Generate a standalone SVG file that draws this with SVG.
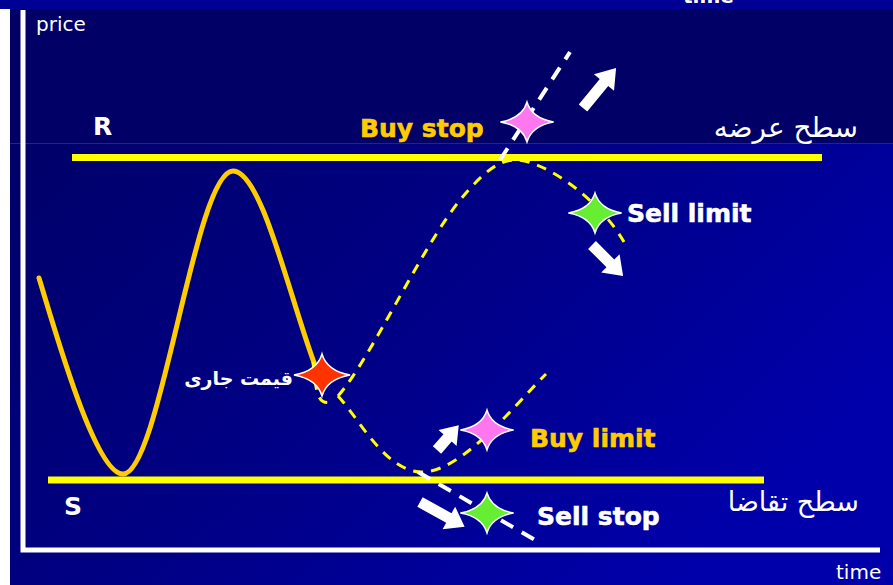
<svg xmlns="http://www.w3.org/2000/svg" width="893" height="585" viewBox="0 0 893 585">
<defs>
<linearGradient id="bgLow" x1="0" y1="0" x2="1" y2="0.5">
<stop offset="0" stop-color="#000068"/>
<stop offset="0.55" stop-color="#000088"/>
<stop offset="1" stop-color="#0000aa"/>
</linearGradient>
<path id="star" d="M -28 0 Q -5 -4 0 -21 Q 5 -4 28 0 Q 5 4 0 21 Q -5 4 -28 0 Z"/>
</defs>
<style>
.lvl{stroke:#ffff00;stroke-width:7;fill:none}
.curve{stroke:#ffcc00;stroke-width:5;fill:none;stroke-linecap:round}
.dash{stroke:#ffff00;stroke-width:3;fill:none;stroke-dasharray:10 8}
.wdash{stroke:#ffffff;stroke-width:4;fill:none;stroke-dasharray:14 10}
.arrow{fill:#ffffff}
.star{stroke:#ffffff;stroke-width:1.5}
.lbl{font-family:"DejaVu Sans","Liberation Sans",sans-serif;font-weight:bold;font-size:25px;stroke-width:0.6}
.ax{font-family:"DejaVu Sans","Liberation Sans",sans-serif;font-size:20px;fill:#ffffff}
.ar{font-family:"DejaVu Sans","Noto Sans",sans-serif;fill:#ffffff}
</style>
<!-- background -->
<rect x="0" y="0" width="893" height="585" fill="#000066"/>
<rect x="0" y="143" width="893" height="442" fill="url(#bgLow)"/>
<rect x="0" y="0" width="893" height="9" fill="#000094"/>
<rect x="0" y="9" width="10" height="576" fill="#ffffff"/>
<line x1="10" y1="143.5" x2="893" y2="143.5" stroke="#1a1ad0" stroke-width="1"/>
<text x="683" y="3" class="ax" font-weight="bold" font-size="22">time</text>

<g id="axes">
<polyline points="23,10 23,550 880,550" fill="none" stroke="#ffffff" stroke-width="5"/>
<text x="36" y="31" class="ax">price</text>
<text x="836" y="579" class="ax">time</text>
</g>

<g id="resistance">
<line x1="72" y1="157.5" x2="822" y2="157.5" class="lvl"/>
<text x="93" y="135" class="lbl" font-size="19" fill="#ffffff">R</text>
<text x="858" y="137" class="ar" font-size="28" text-anchor="end">سطح عرضه</text>
</g>

<g id="support">
<line x1="48" y1="480" x2="764" y2="480" class="lvl"/>
<text x="64" y="515" class="lbl" font-size="20" fill="#ffffff">S</text>
<text x="859" y="511" class="ar" font-size="27" text-anchor="end">سطح تقاضا</text>
</g>

<g id="connectors">
<path class="curve" d="M 39 278 C 55 330, 95 474, 123 474 C 160 474, 195 171, 233 171 C 262 171, 290 300, 316 368"/>
<path class="dash" d="M 313 362 C 316 395, 318 405, 332 402"/>
<path class="dash" d="M 338 396 C 370 360, 420 250, 460 200 C 485 170, 500 160, 515 160 C 545 160, 600 200, 624 242"/>
<path class="dash" d="M 338 396 C 360 420, 385 470, 420 472 C 460 474, 510 410, 546 374"/>
<line class="wdash" x1="500" y1="160" x2="570" y2="52"/>
<line class="wdash" x1="418" y1="472" x2="535" y2="540"/>
</g>

<g id="current-price">
<use href="#star" class="star" fill="#ff3300" transform="translate(322,375)"/>
<text x="293" y="385" class="ar" font-size="19" font-weight="bold" text-anchor="end">قیمت جاری</text>
</g>

<g id="buy-stop">
<use href="#star" class="star" fill="#ff77ee" transform="translate(527,122) scale(0.95)"/>
<path class="arrow" d="M0 -5.5 L33 -5.5 L33 -13 L52 0 L33 13 L33 5.5 L0 5.5 Z" transform="translate(583,108) rotate(-50.5)"/>
<text x="360" y="137" class="lbl" fill="#ffcc00" stroke="#ffcc00">Buy stop</text>
</g>

<g id="sell-limit">
<use href="#star" class="star" fill="#66ee33" transform="translate(595,213) scale(0.95)"/>
<path class="arrow" d="M0 -5.5 L26 -5.5 L26 -13 L44 0 L26 13 L26 5.5 L0 5.5 Z" transform="translate(592,245) rotate(45)"/>
<text x="627" y="222" class="lbl" fill="#ffffff" stroke="#ffffff">Sell limit</text>
</g>

<g id="buy-limit">
<use href="#star" class="star" fill="#ff77ee" transform="translate(487,430) scale(0.95)"/>
<path class="arrow" d="M0 -5.5 L16 -5.5 L16 -12 L33 0 L16 12 L16 5.5 L0 5.5 Z" transform="translate(437,450) rotate(-48.7)"/>
<text x="530" y="447" class="lbl" fill="#ffcc00" stroke="#ffcc00">Buy limit</text>
</g>

<g id="sell-stop">
<use href="#star" class="star" fill="#66ee33" transform="translate(487,513) scale(0.95)"/>
<path class="arrow" d="M0 -5.5 L33 -5.5 L33 -13 L51 0 L33 13 L33 5.5 L0 5.5 Z" transform="translate(420,502) rotate(29)"/>
<text x="537" y="525" class="lbl" fill="#ffffff" stroke="#ffffff">Sell stop</text>
</g>
</svg>
